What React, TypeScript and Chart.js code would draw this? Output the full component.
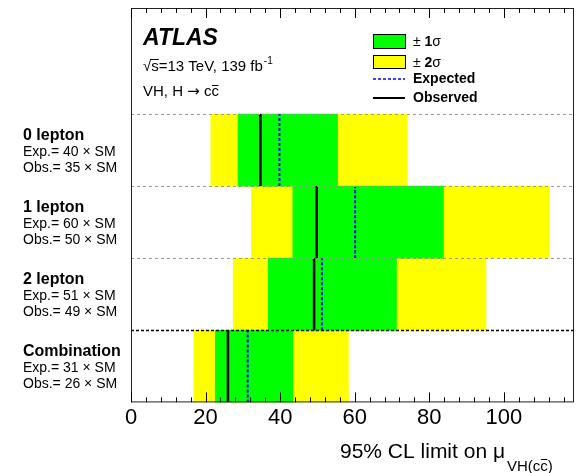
import React, { useEffect, useRef } from 'react';
import { Chart, registerables } from 'chart.js';
Chart.register(...registerables);

// ---- data (rows listed top to bottom) ----
const channels = ['0 lepton', '1 lepton', '2 lepton', 'Combination'];
const expectedLimit = [39.8, 60.1, 51.2, 31.3];
const observedLimit = [34.7, 49.8, 49.1, 26.0];
const band2Low = [21.4, 32.3, 27.4, 16.9];
const band1Low = [28.7, 43.4, 36.8, 22.6];
const band1High = [55.4, 83.8, 71.2, 43.4];
const band2High = [74.1, 112.2, 95.2, 58.3];
const expectedLabel = [40, 60, 51, 31];
const observedLabel = [35, 50, 49, 26];
const xTicks = [0, 20, 40, 60, 80, 100];
const yRowTicks = [0, 1, 2, 3, 4, 5];
const X_MAX = 118.8;
const Y_MAX = 5.47;

const FONT = "'Liberation Sans', Arial, Helvetica, sans-serif";
const rowPos = channels.map((_, i) => channels.length - 1 - i + 0.5);

const decor = {
  id: 'decor',
  afterDatasetsDraw(chart: any) {
    const { ctx, chartArea: a, scales } = chart;
    const xs = scales.x;
    const ys = scales.y;
    ctx.save();
    // row separators
    for (let k = 1; k <= channels.length; k++) {
      const y = Math.round(ys.getPixelForValue(k)) + 0.5;
      ctx.beginPath();
      if (k === 1) {
        ctx.strokeStyle = '#000';
        ctx.lineWidth = 1.6;
        ctx.setLineDash([3, 2]);
      } else {
        ctx.strokeStyle = '#9a9a9a';
        ctx.lineWidth = 1;
        ctx.setLineDash([3, 3]);
      }
      ctx.moveTo(a.left, y);
      ctx.lineTo(a.right, y);
      ctx.stroke();
    }
    ctx.setLineDash([]);
    // frame
    ctx.strokeStyle = '#222';
    ctx.lineWidth = 1;
    ctx.strokeRect(a.left + 0.5, a.top + 0.5, a.right - a.left - 1, a.bottom - a.top - 1);
    // inward ticks top and bottom
    ctx.strokeStyle = '#000';
    ctx.beginPath();
    for (let v = 0; v <= X_MAX; v += 4) {
      const x = Math.round(xs.getPixelForValue(v)) + 0.5;
      const len = v % 20 === 0 ? 10 : 5;
      ctx.moveTo(x, a.bottom);
      ctx.lineTo(x, a.bottom - len);
      ctx.moveTo(x, a.top);
      ctx.lineTo(x, a.top + len);
    }
    ctx.stroke();

    ctx.fillStyle = '#000';
    ctx.textBaseline = 'alphabetic';
    ctx.textAlign = 'left';
    // channel labels
    channels.forEach((name, i) => {
      const cy = ys.getPixelForValue(rowPos[i]);
      ctx.font = `bold 16px ${FONT}`;
      ctx.fillText(name, 23, cy - 10);
      ctx.font = `14px ${FONT}`;
      ctx.fillText(`Exp.= ${expectedLabel[i]} \u00d7 SM`, 23, cy + 6);
      ctx.fillText(`Obs.= ${observedLabel[i]} \u00d7 SM`, 23, cy + 22);
    });

    // ATLAS label
    const lx = a.left + 12;
    ctx.font = `italic bold 23px ${FONT}`;
    ctx.fillText('ATLAS', lx, 45);
    ctx.font = `15px ${FONT}`;
    const wr = ctx.measureText('\u221a').width;
    ctx.fillText('\u221a', lx, 71);
    const ws = ctx.measureText('s').width;
    ctx.fillText('s=13 TeV, 139 fb', lx + wr, 71);
    const wt = ctx.measureText('s=13 TeV, 139 fb').width;
    ctx.beginPath();
    ctx.lineWidth = 1;
    ctx.moveTo(lx + wr - 1, 59.5);
    ctx.lineTo(lx + wr + ws, 59.5);
    ctx.stroke();
    ctx.font = `10px ${FONT}`;
    ctx.fillText('-1', lx + wr + wt + 1, 64);
    ctx.font = `15px ${FONT}`;
    let vx = lx;
    ctx.fillText('VH, H ', vx, 96);
    vx += ctx.measureText('VH, H ').width;
    ctx.font = `15px 'DejaVu Sans', sans-serif`;
    ctx.fillText('\u2192', vx, 96);
    vx += ctx.measureText('\u2192').width;
    ctx.font = `15px ${FONT}`;
    ctx.fillText(' c', vx, 96);
    vx += ctx.measureText(' c').width;
    const wc = ctx.measureText('c').width;
    ctx.fillText('c', vx, 96);
    ctx.beginPath();
    ctx.moveTo(vx + 0.5, 85.5);
    ctx.lineTo(vx + wc - 0.5, 85.5);
    ctx.stroke();

    // legend
    const bx = 373;
    const bw = 32;
    ctx.fillStyle = '#00ff00';
    ctx.fillRect(bx, 34, bw, 14);
    ctx.strokeStyle = '#000';
    ctx.strokeRect(bx + 0.5, 34.5, bw, 14);
    ctx.fillStyle = '#ffff00';
    ctx.fillRect(bx, 55, bw, 13);
    ctx.strokeRect(bx + 0.5, 55.5, bw, 13);
    ctx.fillStyle = '#000';
    const sig = (n: string, base: number) => {
      let x = 413;
      ctx.font = `14px ${FONT}`;
      ctx.fillText('\u00b1', x, base);
      x += ctx.measureText('\u00b1 ').width;
      ctx.font = `bold 14px ${FONT}`;
      ctx.fillText(n, x, base);
      x += ctx.measureText(n).width;
      ctx.font = `14px ${FONT}`;
      ctx.fillText('\u03c3', x, base);
    };
    sig('1', 46);
    sig('2', 67);
    ctx.font = `bold 14px ${FONT}`;
    ctx.fillText('Expected', 413, 83);
    ctx.fillText('Observed', 413, 102);
    ctx.beginPath();
    ctx.strokeStyle = '#0000ff';
    ctx.lineWidth = 1.6;
    ctx.setLineDash([3, 2]);
    ctx.moveTo(bx, 79);
    ctx.lineTo(bx + bw, 79);
    ctx.stroke();
    ctx.setLineDash([]);
    ctx.beginPath();
    ctx.strokeStyle = '#000';
    ctx.lineWidth = 2;
    ctx.moveTo(bx, 98);
    ctx.lineTo(bx + bw, 98);
    ctx.stroke();

    // x-axis title
    ctx.fillStyle = '#000';
    ctx.font = `21px ${FONT}`;
    const title = '95% CL limit on \u03bc';
    const tx = a.right - 234;
    ctx.fillText(title, tx, 458);
    let sx = tx + ctx.measureText(title).width + 2;
    ctx.font = `15px ${FONT}`;
    const sub1 = 'VH(c';
    ctx.fillText(sub1, sx, 471);
    sx += ctx.measureText(sub1).width;
    const wcc = ctx.measureText('c').width;
    ctx.fillText('c)', sx, 471);
    ctx.beginPath();
    ctx.lineWidth = 1;
    ctx.moveTo(sx + 0.5, 459.5);
    ctx.lineTo(sx + wcc - 0.5, 459.5);
    ctx.stroke();

    ctx.restore();
  },
};

export default function App() {
  const ref = useRef<HTMLCanvasElement | null>(null);
  useEffect(() => {
    if (!ref.current) return;
    const bar = (lo: number[], hi: number[]) =>
      channels.map((_, i) => ({ x: [lo[i], hi[i]], y: rowPos[i] }));
    const vline = (vals: number[], i: number) => [
      { x: vals[i], y: rowPos[i] - 0.5 },
      { x: vals[i], y: rowPos[i] + 0.5 },
    ];
    const datasets: any[] = [
      {
        type: 'bar',
        label: '\u00b1 2\u03c3',
        data: bar(band2Low, band2High),
        backgroundColor: '#ffff00',
        borderWidth: 0,
        barPercentage: 1,
        categoryPercentage: 1,
        grouped: false,
        order: 4,
      },
      {
        type: 'bar',
        label: '\u00b1 1\u03c3',
        data: bar(band1Low, band1High),
        backgroundColor: '#00ff00',
        borderWidth: 0,
        barPercentage: 1,
        categoryPercentage: 1,
        grouped: false,
        order: 3,
      },
    ];
    channels.forEach((_, i) => {
      datasets.push({
        type: 'line',
        label: 'Expected',
        data: vline(expectedLimit, i),
        borderColor: '#0000ff',
        borderWidth: 2,
        borderDash: [3, 2],
        pointRadius: 0,
        tension: 0,
        order: 2,
      });
      datasets.push({
        type: 'line',
        label: 'Observed',
        data: vline(observedLimit, i),
        borderColor: '#000000',
        borderWidth: 2.5,
        pointRadius: 0,
        tension: 0,
        order: 1,
      });
    });
    const chart = new Chart(ref.current, {
      type: 'bar',
      data: { datasets },
      plugins: [decor],
      options: {
        indexAxis: 'y',
        responsive: false,
        animation: false,
        events: [],
        layout: { padding: { left: 131, right: 8, top: 8, bottom: 40.2 } },
        plugins: { legend: { display: false }, tooltip: { enabled: false } },
        scales: {
          x: {
            type: 'linear',
            min: 0,
            max: X_MAX,
            offset: false,
            afterBuildTicks: (s: any) => {
              s.ticks = xTicks.map((v) => ({ value: v }));
            },
            ticks: {
              font: { size: 22, family: FONT },
              color: '#000',
              padding: 2,
              maxRotation: 0,
              autoSkip: false,
            },
            grid: { display: false, drawTicks: false, offset: false },
            border: { display: false },
          },
          y: {
            type: 'linear',
            min: 0,
            max: Y_MAX,
            offset: false,
            afterBuildTicks: (s: any) => {
              s.ticks = yRowTicks.map((v) => ({ value: v }));
            },
            ticks: { display: false },
            grid: { display: false, drawTicks: false, offset: false },
            border: { display: false },
          },
        },
      } as any,
    });
    return () => chart.destroy();
  }, []);
  return (
    <div style={{ position: 'fixed', left: 0, top: 0, width: 582, height: 473, background: '#fff' }}>
      <canvas ref={ref} width={582} height={473} />
    </div>
  );
}
